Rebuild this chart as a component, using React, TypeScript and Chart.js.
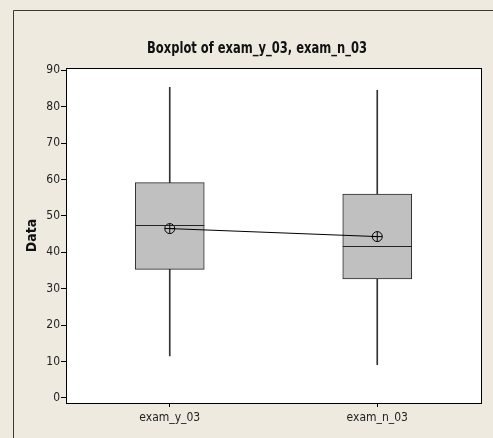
import React, { useEffect, useRef } from "react";
import { Chart, registerables } from "chart.js";

Chart.register(...registerables);

const categories = ["exam_y_03", "exam_n_03"];
const whiskerLow = [11.5, 9.1];
const q1 = [35.3, 32.7];
const medians = [47.6, 41.7];
const q3 = [59.1, 56.0];
const whiskerHigh = [85.3, 84.5];
const means = [46.5, 44.3];
const yTicks = [0, 10, 20, 30, 40, 50, 60, 70, 80, 90];
const titleText = "Boxplot of exam_y_03, exam_n_03";
const yTitle = "Data";

const FONT = '"Liberation Sans Narrow", "DejaVu Sans Condensed", "Liberation Sans", sans-serif';
const BG = "#eeeae0";

export default function App() {
  const ref = useRef<HTMLCanvasElement | null>(null);

  useEffect(() => {
    const canvas = ref.current;
    if (!canvas) return;

    const framePlugin = {
      id: "frame",
      beforeDraw(chart: any) {
        const ctx = chart.ctx;
        ctx.save();
        ctx.fillStyle = BG;
        ctx.fillRect(0, 0, chart.width, chart.height);
        ctx.strokeStyle = "#3a3a3a";
        ctx.lineWidth = 1;
        ctx.beginPath();
        ctx.moveTo(13.5, chart.height);
        ctx.lineTo(13.5, 10.5);
        ctx.lineTo(chart.width, 10.5);
        ctx.stroke();
        const a = chart.chartArea;
        ctx.fillStyle = "#ffffff";
        ctx.fillRect(a.left, a.top, a.right - a.left, a.bottom - a.top);
        // title (horizontally condensed)
        ctx.fillStyle = "#111";
        ctx.font = 'bold 16px ' + FONT;
        ctx.textAlign = "center";
        ctx.textBaseline = "middle";
        ctx.translate(257, 49);
        ctx.scale(0.8, 1);
        ctx.fillText(titleText, 0, 0);
        ctx.restore();
      },
      afterDatasetsDraw(chart: any) {
        const ctx = chart.ctx;
        const x = chart.scales.x;
        const y = chart.scales.y;
        const boxMeta = chart.getDatasetMeta(1);
        ctx.save();
        ctx.strokeStyle = "#222";
        ctx.lineWidth = 1;
        medians.forEach((m, i) => {
          const el = boxMeta.data[i];
          const cx = x.getPixelForValue(i);
          const hw = el.width / 2;
          const py = Math.round(y.getPixelForValue(m)) + 0.5;
          ctx.beginPath();
          ctx.moveTo(cx - hw, py);
          ctx.lineTo(cx + hw, py);
          ctx.stroke();
        });
        ctx.restore();
      },
      afterDraw(chart: any) {
        const ctx = chart.ctx;
        const a = chart.chartArea;
        ctx.save();
        ctx.strokeStyle = "#000";
        ctx.lineWidth = 1;
        ctx.strokeRect(Math.round(a.left) + 0.5, Math.round(a.top) + 0.5, Math.round(a.right - a.left), Math.round(a.bottom - a.top));
        ctx.restore();
      },
    };

    const chart = new Chart(canvas, {
      type: "bar",
      data: {
        labels: categories,
        datasets: [
          {
            type: "bar",
            data: whiskerLow.map((v, i) => [v, whiskerHigh[i]]) as any,
            backgroundColor: "#333",
            borderWidth: 0,
            barThickness: 1,
            grouped: false,
            order: 3,
          } as any,
          {
            type: "bar",
            data: q1.map((v, i) => [v, q3[i]]) as any,
            backgroundColor: "#c0c0c0",
            borderColor: "#2a2a2a",
            borderWidth: 1,
            borderSkipped: false,
            barThickness: 69,
            grouped: false,
            order: 2,
          } as any,
          {
            type: "line",
            data: means,
            borderColor: "#000",
            borderWidth: 1,
            pointStyle: "circle",
            pointRadius: 5,
            pointBorderWidth: 1,
            pointBorderColor: "#000",
            pointBackgroundColor: "rgba(0,0,0,0)",
            fill: false,
            order: 1,
          } as any,
          {
            type: "line",
            data: means,
            showLine: false,
            pointStyle: "cross",
            pointRadius: 5,
            pointBorderWidth: 1,
            pointBorderColor: "#000",
            order: 0,
          } as any,
        ],
      },
      options: {
        responsive: false,
        animation: false,
        events: [],
        layout: { padding: { left: 13, top: 68, right: 12, bottom: 0 } },
        plugins: { legend: { display: false }, tooltip: { enabled: false }, title: { display: false } },
        scales: {
          x: {
            type: "category",
            offset: true,
            afterFit: (s: any) => { s.height = 35; },
            grid: { drawOnChartArea: false, offset: false, tickLength: 4, color: "#000" },
            border: { display: true, color: "#000" },
            ticks: { color: "#222", padding: 4, font: { family: FONT, size: 12 } },
          },
          y: {
            min: -1.4,
            max: 90.6,
            afterFit: (s: any) => { s.width = 53; },
            afterBuildTicks: (s: any) => { s.ticks = yTicks.map((v) => ({ value: v })); },
            grid: { drawOnChartArea: false, tickLength: 5, color: "#000" },
            border: { display: true, color: "#000" },
            ticks: { color: "#222", padding: 1, font: { family: FONT, size: 12 } },
            title: {
              display: true,
              text: yTitle,
              color: "#111",
              padding: { top: 11, bottom: 0 },
              font: { family: '"DejaVu Sans Condensed", "DejaVu Sans", sans-serif', size: 14, weight: "bold" },
            },
          },
        },
      } as any,
      plugins: [framePlugin],
    });

    return () => chart.destroy();
  }, []);

  return (
    <div style={{ position: "absolute", left: 0, top: 0, width: 493, height: 438, overflow: "hidden" }}>
      <canvas ref={ref} width={493} height={438} style={{ display: "block", width: 493, height: 438 }} />
    </div>
  );
}
